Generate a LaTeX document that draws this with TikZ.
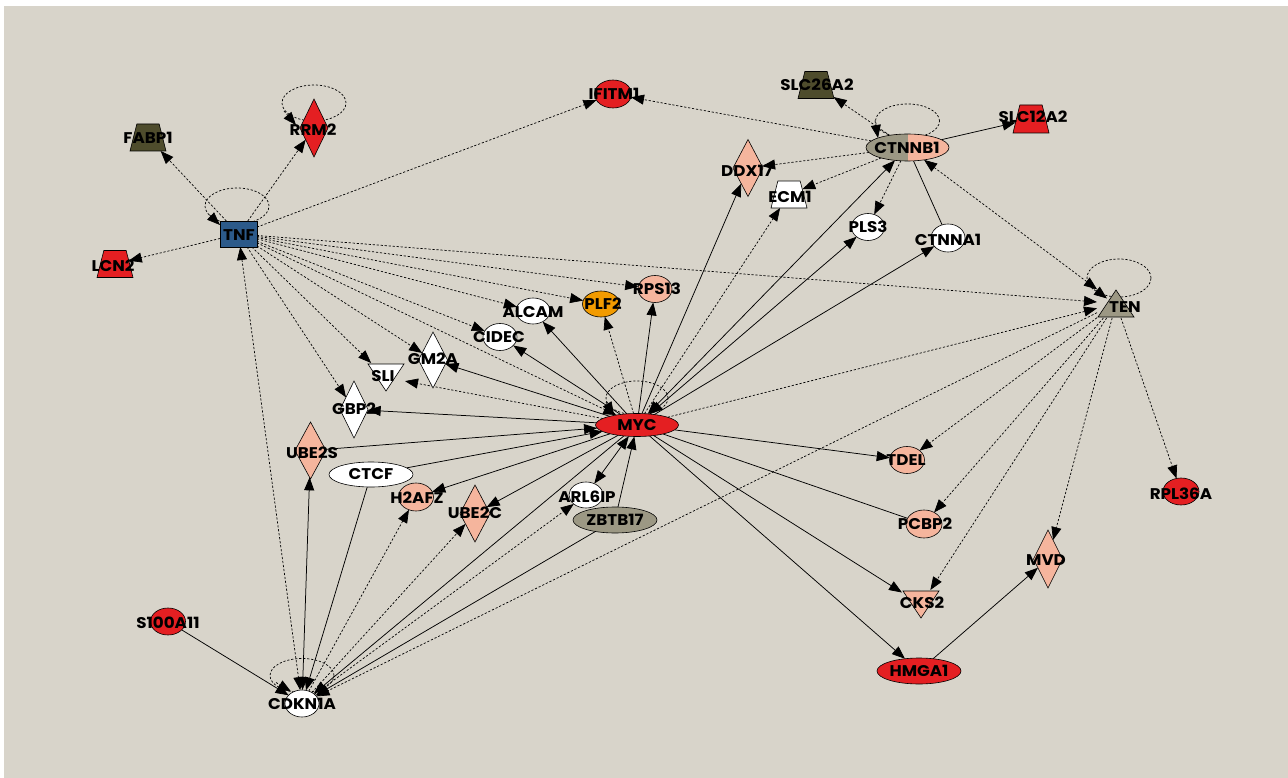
\documentclass[tikz,border=0pt]{standalone}
\usepackage{fontspec}
\setmainfont{Poppins}[FakeStretch=1.08]
\usetikzlibrary{shapes.geometric,arrows.meta}
\pgfdeclarelayer{bg}\pgfdeclarelayer{edges}\pgfsetlayers{bg,edges,main}
\definecolor{bgc}{HTML}{D8D4CA}
\definecolor{myred}{HTML}{E41F22}
\definecolor{salmon}{HTML}{F5B59D}
\definecolor{orng}{HTML}{F29B00}
\definecolor{olive}{HTML}{4E4C2C}
\definecolor{mytan}{HTML}{9C9884}
\definecolor{tnfblue}{HTML}{2C5A8A}
\tikzset{
 shp/.style={draw=black,line width=0.6pt,inner sep=0pt,outer sep=0pt},
 ell/.style={shp,ellipse,minimum width=35,minimum height=27},
 wide/.style={minimum width=84,minimum height=26},
 dia/.style={shp,diamond,minimum width=29,minimum height=57},
 trap/.style={shp,trapezium,inner sep=1pt,trapezium left angle=73,trapezium right angle=73,trapezium stretches=true,minimum width=36,minimum height=27},
 triup/.style={inner sep=0pt,outer sep=0pt,minimum width=38,minimum height=29,
   path picture={\draw[fill=#1,line width=0.6pt] ([shift={(1,-1)}]path picture bounding box.south west) -- ([shift={(0,1)}]path picture bounding box.north) -- ([shift={(-1,-1)}]path picture bounding box.south east) -- cycle;}},
 tridown/.style={inner sep=0pt,outer sep=0pt,minimum width=38,minimum height=29,
   path picture={\draw[fill=#1,line width=0.6pt] ([shift={(1,1)}]path picture bounding box.north west) -- ([shift={(0,-1)}]path picture bounding box.south) -- ([shift={(-1,1)}]path picture bounding box.north east) -- cycle;}},
 lab/.style={font=\bfseries\fontsize{15.5}{16}\selectfont,inner sep=0pt,text=black},
 sol/.style={line width=0.75pt},
 dsh/.style={line width=0.7pt,dash pattern=on 2.2pt off 1.8pt},
 loopc/.style={dsh},
}
\begin{document}
\begin{tikzpicture}[x=1pt,y=-1pt,>={Triangle[length=13pt,width=10pt]}]
\useasboundingbox (0,0) rectangle (1288,778);
\begin{pgfonlayer}{bg}
\fill[white] (0,0) rectangle (1288,778);
\fill[bgc] (4,6) rectangle (1288,778);
\end{pgfonlayer}

% ---------- nodes ----------
\node[shp,rectangle,fill=tnfblue,minimum width=37,minimum height=26] (TNF) at (238.5,234) {};
\node[trap,fill=olive] (FABP1) at (148,137.5) {};
\node[dia,fill=myred,minimum width=28,minimum height=58] (RRM2) at (314,128) {};
\node[trap,fill=myred] (LCN2) at (115,264) {};
\node[ell,fill=myred,minimum width=37,minimum height=28] (IFITM1) at (613,94) {};
\node[trap,fill=olive] (SLC26A2) at (816,85) {};
\node[ell,fill=salmon,minimum width=83,minimum height=27,
  path picture={\fill[mytan] (path picture bounding box.south west) rectangle (path picture bounding box.north);}] (CTNNB1) at (907.5,147.5) {};
\node[trap,fill=myred,minimum height=28] (SLC12A2) at (1031,119) {};
\node[dia,fill=salmon,minimum width=30] (DDX17) at (748,168) {};
\node[trap,fill=white] (ECM1) at (789,194.5) {};
\node[ell,fill=white,minimum width=33] (PLS3) at (868,227) {};
\node[ell,fill=white,minimum width=34,minimum height=28] (CTNNA1) at (948,238) {};
\node[triup=mytan] (TEN) at (1116,303.5) {};
\node[ell,fill=salmon,minimum width=34] (RPS13) at (655,289) {};
\node[ell,fill=orng,minimum width=37,minimum height=26] (PLF2) at (601,304) {};
\node[ell,fill=white,minimum width=34,minimum height=26] (ALCAM) at (533,311) {};
\node[ell,fill=white,minimum width=34] (CIDEC) at (500,337) {};
\node[dia,fill=white,minimum height=56] (GM2A) at (433,360) {};
\node[tridown=white] (SLI) at (386,377.5) {};
\node[dia,fill=white,minimum width=28] (GBP2) at (354,409.5) {};
\node[ell,fill=myred,minimum width=83,minimum height=23] (MYC) at (637,425) {};
\node[dia,fill=salmon,minimum width=31] (UBE2S) at (310.5,450.5) {};
\node[ell,fill=white,minimum width=84,minimum height=25] (CTCF) at (371,474.5) {};
\node[ell,fill=salmon,minimum width=35,minimum height=28] (H2AFZ) at (416,497) {};
\node[dia,fill=salmon,minimum width=30] (UBE2C) at (475,513.5) {};
\node[ell,fill=white,minimum width=34,minimum height=26] (ARL6IP) at (586,495) {};
\node[ell,fill=mytan,wide] (ZBTB17) at (615,520) {};
\node[ell,fill=salmon,minimum width=35] (TDEL) at (907,460) {};
\node[ell,fill=salmon,minimum width=36,minimum height=28] (PCBP2) at (924,524) {};
\node[tridown=salmon] (CKS2) at (921,604.5) {};
\node[dia,fill=salmon,minimum height=58] (MVD) at (1048,559) {};
\node[ell,fill=myred,minimum width=36] (RPL36A) at (1181,491.5) {};
\node[ell,fill=myred,wide] (HMGA1) at (919,671) {};
\node[ell,fill=myred] (S100A11) at (168,621.5) {};
\node[ell,fill=white,minimum width=34] (CDKN1A) at (302,703.5) {};

% ---------- edges ----------
\begin{pgfonlayer}{edges}
% self loops
\draw[loopc] ([shift={(-1.5,-28)}]TNF.center) ellipse [x radius=32pt,y radius=18pt];
\draw[dsh,->] ([shift={(-29,-19)}]TNF.center) -- ([shift={(0,-9)}]TNF.west);
\draw[loopc] ([shift={(0,-25)}]RRM2.center) ellipse [x radius=32pt,y radius=18pt];
\draw[dsh,->] ([shift={(-30,-17)}]RRM2.center) -- ([shift={(-18,-3)}]RRM2.center);
\draw[loopc] ([shift={(0,-26.5)}]CTNNB1.center) ellipse [x radius=32pt,y radius=17pt];
\draw[dsh,->] ([shift={(-32.5,-27)}]CTNNB1.center) -- ([shift={(-29.5,-9.5)}]CTNNB1.center);
\draw[loopc] ([shift={(3,-25.5)}]TEN.center) ellipse [x radius=32pt,y radius=19pt];
\draw[dsh,->] ([shift={(-26,-18)}]TEN.center) -- ([shift={(-9,-5)}]TEN.center);
\draw[loopc] ([shift={(0,-27)}]MYC.center) ellipse [x radius=31pt,y radius=17pt];
\draw[dsh,->] ([shift={(-31,-23)}]MYC.center) -- ([shift={(-23,-10)}]MYC.center);
\draw[loopc] ([shift={(0,-28)}]CDKN1A.center) ellipse [x radius=32pt,y radius=17pt];
\draw[dsh,->] ([shift={(-26,-21)}]CDKN1A.center) -- ([shift={(-11,-12)}]CDKN1A.center);

% TNF
\draw[dsh,->] (TNF) -- (FABP1);
\draw[dsh,->] (TNF) -- (RRM2);
\draw[dsh,->] (TNF) -- (LCN2);
\draw[dsh,->] (TNF) -- (IFITM1);
\draw[dsh,->] (TNF) -- (TEN);
\draw[dsh,->] (TNF) -- (RPS13);
\draw[dsh,->] (TNF) -- (PLF2);
\draw[dsh,->] (TNF) -- (ALCAM);
\draw[dsh,->] (TNF) -- (CIDEC);
\draw[dsh,->] (TNF) -- (GM2A);
\draw[dsh,->] (TNF) -- (SLI);
\draw[dsh,->] (TNF) -- (GBP2);
\draw[dsh,->] (TNF) -- (MYC);
\draw[dsh,<->] (TNF) -- (CDKN1A);

% CTNNB1
\draw[dsh,->] (CTNNB1) -- (IFITM1);
\draw[dsh,->] (CTNNB1) -- (SLC26A2);
\draw[sol,->] (CTNNB1) -- (SLC12A2);
\draw[dsh,->] (CTNNB1) -- (DDX17);
\draw[dsh,->] (CTNNB1) -- (ECM1);
\draw[dsh,->] (CTNNB1) -- (PLS3);
\draw[sol] (CTNNB1) -- (CTNNA1);
\draw[dsh,<->] (CTNNB1) -- (TEN);

% MYC
\draw[sol,<->] (MYC) -- (CTNNB1);
\draw[sol,->] (MYC) -- (DDX17);
\draw[dsh,->] (MYC) -- (ECM1);
\draw[sol,<->] (MYC) -- (PLS3);
\draw[sol,->] (MYC) -- (CTNNA1);
\draw[sol,->] (MYC) -- (RPS13);
\draw[dsh,->] (MYC) -- (PLF2);
\draw[sol,->] (MYC) -- (ALCAM);
\draw[sol,->] (MYC) -- (CIDEC);
\draw[sol,->] (MYC) -- (GM2A);
\draw[dsh,->] (MYC) -- (SLI);
\draw[sol,->] (MYC) -- (GBP2);
\draw[sol,->] (UBE2S) -- (MYC);
\draw[sol,->] (CTCF) -- (MYC);
\draw[sol,->] (MYC) -- (H2AFZ);
\draw[sol,->] (MYC) -- (UBE2C);
\draw[sol,<->] (MYC) -- (ARL6IP);
\draw[sol,->] (ZBTB17) -- (MYC);
\draw[sol,->] (MYC) -- (CDKN1A);
\draw[sol,->] (MYC) -- (TDEL);
\draw[sol] (MYC) -- (PCBP2);
\draw[sol,->] (MYC) -- (CKS2);
\draw[sol,->] (MYC) -- (HMGA1);
\draw[dsh,->] (MYC) -- (TEN);

% TEN
\draw[dsh,->] (TEN) -- (TDEL);
\draw[dsh,->] (TEN) -- (PCBP2);
\draw[dsh,->] (TEN) -- (CKS2);
\draw[dsh,->] (TEN) -- (MVD);
\draw[dsh,->] (TEN) -- (RPL36A);
\draw[dsh,->] (TEN) -- (CDKN1A);

% CDKN1A
\draw[sol,<->] (UBE2S) -- (CDKN1A);
\draw[sol,->] (CTCF) -- (CDKN1A);
\draw[dsh,->] (CDKN1A) -- (H2AFZ);
\draw[dsh,->] (CDKN1A) -- (UBE2C);
\draw[dsh,->] (CDKN1A) -- (ARL6IP);
\draw[sol,->] (ZBTB17) -- (CDKN1A);
\draw[sol,->] (S100A11) -- (CDKN1A);
\draw[sol,->] (HMGA1) -- (MVD);
\end{pgfonlayer}

% ---------- labels ----------
\node[lab] (TNFt) at (239,235) {TNF};
\node[lab] (FABP1t) at (148,138) {FABP1};
\node[lab] (RRM2t) at (313,130) {RRM2};
\node[lab] (LCN2t) at (113,266) {LCN2};
\node[lab] (IFITM1t) at (614,94) {IFITM1};
\node[lab] (SLC26A2t) at (817,85) {SLC26A2};
\node[lab] (CTNNB1t) at (907,148) {CTNNB1};
\node[lab] (SLC12A2t) at (1033,117) {SLC12A2};
\node[lab] (DDX17t) at (747,171) {DDX17};
\node[lab] (ECM1t) at (790,197) {ECM1};
\node[lab] (PLS3t) at (868,227) {PLS3};
\node[lab] (CTNNA1t) at (948,240) {CTNNA1};
\node[lab] (TENt) at (1125,307) {TEN};
\node[lab] (RPS13t) at (657,289) {RPS13};
\node[lab] (PLF2t) at (603,304) {PLF2};
\node[lab] (ALCAMt) at (533,312) {ALCAM};
\node[lab] (CIDECt) at (499,337) {CIDEC};
\node[lab] (GM2At) at (433,359) {GM2A};
\node[lab] (SLIt) at (383,376) {SLI};
\node[lab] (GBP2t) at (354,409) {GBP2};
\node[lab] (MYCt) at (637,425) {MYC};
\node[lab] (UBE2St) at (312,453) {UBE2S};
\node[lab] (CTCFt) at (371,474) {CTCF};
\node[lab] (H2AFZt) at (417,498) {H2AFZ};
\node[lab] (UBE2Ct) at (475,513) {UBE2C};
\node[lab] (ARL6IPt) at (587,497) {ARL6IP};
\node[lab] (ZBTB17t) at (615,520) {ZBTB17};
\node[lab] (TDELt) at (906,460) {TDEL};
\node[lab] (PCBP2t) at (925,524) {PCBP2};
\node[lab] (CKS2t) at (922,603) {CKS2};
\node[lab] (MVDt) at (1046,560) {MVD};
\node[lab] (RPL36At) at (1181,494) {RPL36A};
\node[lab] (HMGA1t) at (919,671) {HMGA1};
\node[lab] (S100A11t) at (168,623) {S100A11};
\node[lab] (CDKN1At) at (302,704) {CDKN1A};
\end{tikzpicture}
\end{document}
